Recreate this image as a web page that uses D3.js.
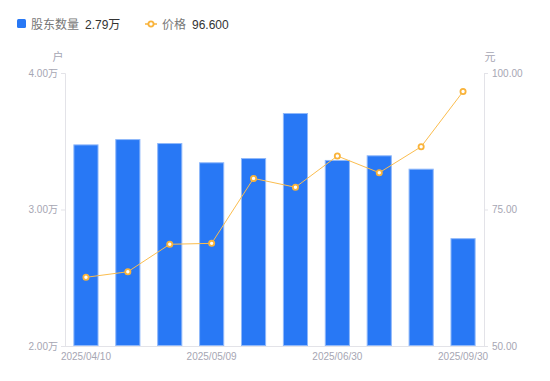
<!DOCTYPE html>
<html><head><meta charset="utf-8">
<script src="https://cdn.jsdelivr.net/npm/d3@7/dist/d3.min.js"></script>
<style>body{margin:0;background:#fff;}svg{display:block;font-family:"Liberation Sans","Noto Sans CJK SC",sans-serif;}</style>
</head><body>
<svg id="chart" width="550" height="381"></svg>
<script>
const categories = ["2025/04/10","2025/04/18","2025/04/30","2025/05/09","2025/05/20","2025/05/30","2025/06/30","2025/07/31","2025/08/29","2025/09/30"];
const holders = [3.477, 3.516, 3.487, 3.346, 3.377, 3.707, 3.363, 3.397, 3.299, 2.79];
const prices = [62.58, 63.6, 68.63, 68.8, 80.7, 79.07, 84.8, 81.74, 86.5, 96.6];
const leftTicks = [2, 3, 4];
const rightTicks = [50, 75, 100];
const xLabelIdx = [0, 3, 6, 9];

const svg = d3.select("#chart");
const m = {l:65, r:484, t:73, b:346};
const x = d3.scaleBand().domain(categories).range([m.l, m.r]).paddingInner(0.4).paddingOuter(0.2);
const yL = d3.scaleLinear().domain([2,4]).range([m.b, m.t]);
const yR = d3.scaleLinear().domain([50,100]).range([m.b, m.t]);

const axisColor = "#e3e3e8", tickText = "#a6a6b3";

const gl = svg.append("g").attr("transform",`translate(${m.l},0)`)
  .call(d3.axisLeft(yL).tickValues(leftTicks).tickSize(4).tickPadding(3).tickFormat(d=>d3.format(".2f")(d)+"万"));
const gr = svg.append("g").attr("transform",`translate(${m.r},0)`)
  .call(d3.axisRight(yR).tickValues(rightTicks).tickSize(4).tickPadding(4).tickFormat(d3.format(".2f")));
const gb = svg.append("g").attr("transform",`translate(0,${m.b})`)
  .call(d3.axisBottom(x).tickValues(xLabelIdx.map(i=>categories[i])).tickSize(0).tickPadding(7));
[gl,gr,gb].forEach(g=>{
  g.attr("font-family",null);
  g.select(".domain").attr("stroke",axisColor);
  g.selectAll(".tick line").attr("stroke",axisColor);
  g.selectAll(".tick text").attr("fill",tickText).attr("font-size",10);
});
gb.select(".domain").attr("d",`M${m.l},0.5H${m.r}`);

svg.append("text").attr("x",58).attr("y",61).attr("text-anchor","middle").attr("fill",tickText).attr("font-size",11).text("户");
svg.append("text").attr("x",490).attr("y",61).attr("text-anchor","middle").attr("fill",tickText).attr("font-size",11).text("元");

svg.append("g").selectAll("rect").data(holders).join("rect")
  .attr("x",(d,i)=>x(categories[i])+0.5)
  .attr("y",d=>yL(d)+0.5)
  .attr("width",x.bandwidth()-1)
  .attr("height",d=>m.b-yL(d)-1)
  .attr("fill","#2878f5").attr("stroke","#8fb8fa").attr("stroke-width",1);

const line = d3.line().x((d,i)=>x(categories[i])+x.bandwidth()/2).y(d=>yR(d));
svg.append("path").datum(prices).attr("d",line).attr("fill","none").attr("stroke","#fbbd4e").attr("stroke-width",1);
svg.append("g").selectAll("circle").data(prices).join("circle")
  .attr("cx",(d,i)=>x(categories[i])+x.bandwidth()/2).attr("cy",d=>yR(d)).attr("r",2.6)
  .attr("fill","#fff").attr("stroke","#f9b33a").attr("stroke-width",1.8);

const lg = svg.append("g");
lg.append("rect").attr("x",17).attr("y",19).attr("width",9).attr("height",9).attr("rx",1.5).attr("fill","#2878f5");
lg.append("text").attr("x",31).attr("y",28.5).attr("font-size",12).attr("fill","#777").text("股东数量");
lg.append("text").attr("x",85).attr("y",28.5).attr("font-size",12).attr("fill","#333").text(d3.format(".2f")(holders[holders.length-1])+"万");
lg.append("line").attr("x1",145).attr("x2",157).attr("y1",24).attr("y2",24).attr("stroke","#f9b33a").attr("stroke-width",1.5);
lg.append("circle").attr("cx",151).attr("cy",24).attr("r",2.6).attr("fill","#fff").attr("stroke","#f9b33a").attr("stroke-width",1.8);
lg.append("text").attr("x",162).attr("y",28.5).attr("font-size",12).attr("fill","#777").text("价格");
lg.append("text").attr("x",192).attr("y",28.5).attr("font-size",12).attr("fill","#333").text(d3.format(".3f")(prices[prices.length-1]));
</script>
</body></html>
